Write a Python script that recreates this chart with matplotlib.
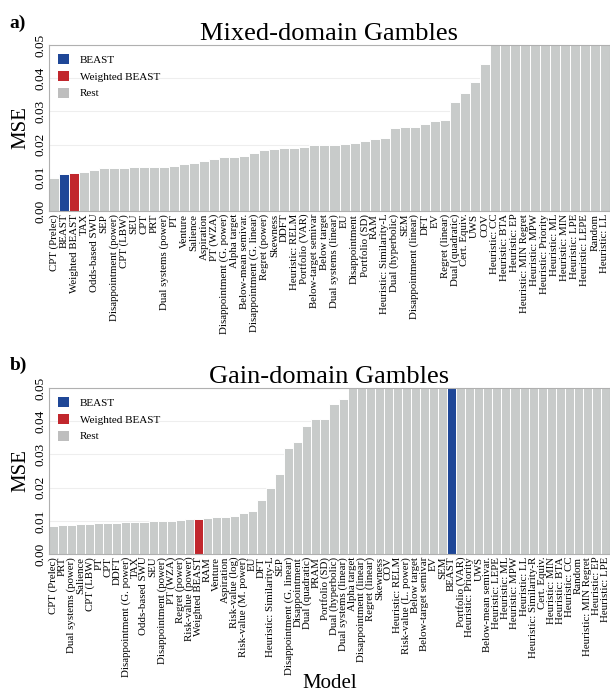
"""
Model comparison bar charts (MSE per model) for mixed-domain and gain-domain gambles.
"""

import matplotlib

matplotlib.use("Agg")

import matplotlib.pyplot as plt
from matplotlib.patches import Patch

plt.rcParams["font.family"] = ["Liberation Serif", "DejaVu Serif"]

# Mixed-domain gambles (values above 0.05 are clipped by the axis)
mixed_models = [
    "CPT (Prelec)", "BEAST", "Weighted BEAST", "TAX", "Odds-based SWU", "SEP",
    "Disappointment (power)", "CPT (LBW)", "SEU", "CPT", "PRT",
    "Dual systems (power)", "PT", "Venture", "Salience", "Aspiration",
    "PT (WZA)", "Disappointment (G. power)", "Alpha target",
    "Below-mean semivar.", "Disappointment (G. linear)", "Regret (power)",
    "Skewness", "DDFT", "Heuristic: RELM", "Portfolio (VAR)",
    "Below-target semivar", "Below target", "Dual systems (linear)", "EU",
    "Disappointment", "Portfolio (SD)", "RAM", "Heuristic: Similarity-L",
    "Dual (hyperbolic)", "SEM", "Disappointment (linear)", "DFT", "EV",
    "Regret (linear)", "Dual (quadratic)", "Cert. Equiv.", "UWS", "COV",
    "Heuristic: CC", "Heuristic: BTA", "Heuristic: EP", "Heuristic: MIN Regret",
    "Heuristic: MPW", "Heuristic: Priority", "Heuristic: ML", "Heuristic: MIN",
    "Heuristic: LPE", "Heuristic: LEPE", "Random", "Heuristic: LL",
]
mixed_mse = [
    0.0100, 0.0111, 0.0113, 0.0117, 0.0124, 0.0129,
    0.0130, 0.0130, 0.0132, 0.0133, 0.0133,
    0.0133, 0.0135, 0.0140, 0.0146, 0.0152,
    0.0156, 0.0163, 0.0163,
    0.0166, 0.0174, 0.0185,
    0.0187, 0.0191, 0.0191, 0.0194,
    0.0198, 0.0200, 0.0200, 0.0201,
    0.0205, 0.0212, 0.0217, 0.0219,
    0.0249, 0.0252, 0.0252, 0.0261, 0.0271,
    0.0275, 0.0329, 0.0356, 0.0388, 0.0442,
    0.060, 0.062, 0.064, 0.066,
    0.068, 0.070, 0.072, 0.074,
    0.076, 0.078, 0.080, 0.085,
]

# Gain-domain gambles
gain_models = [
    "CPT (Prelec)", "PRT", "Dual systems (power)", "Salience", "CPT (LBW)",
    "PT", "CPT", "DDFT", "Disappointment (G. power)", "TAX", "Odds-based SWU",
    "SEU", "Disappointment (power)", "PT (WZA)", "Regret (power)",
    "Risk-value (power)", "Weighted BEAST", "RAM", "Venture", "Aspiration",
    "Risk-value (log)", "Risk-value (M. power)", "EU", "DFT",
    "Heuristic: Similarity-L", "SEP", "Disappointment (G. linear)",
    "Disappointment", "Dual (quadratic)", "PRAM", "Portfolio (SD)",
    "Dual (hyperbolic)", "Dual systems (linear)", "Alpha target",
    "Disappointment (linear)", "Regret (linear)", "Skewness", "COV",
    "Heuristic: RELM", "Risk-value (L. power)", "Below target",
    "Below-target semivar", "EV", "SEM", "BEAST", "Portfolio (VAR)",
    "Heuristic: Priority", "UWS", "Below-mean semivar.", "Heuristic: LEPE",
    "Heuristic: ML", "Heuristic: MPW", "Heuristic: LL",
    "Heuristic: Similarity-R", "Cert. Equiv.", "Heuristic: MIN",
    "Heuristic: BTA", "Heuristic: CC", "Random", "Heuristic: MIN Regret",
    "Heuristic: EP", "Heuristic: LPE",
]
gain_mse = [
    0.0085, 0.0088, 0.0088, 0.0090, 0.0091,
    0.0093, 0.0093, 0.0093, 0.0095, 0.0095, 0.0095,
    0.0099, 0.0100, 0.0100, 0.0102,
    0.0104, 0.0106, 0.0107, 0.0110, 0.0112,
    0.0115, 0.0125, 0.0130, 0.0164,
    0.0198, 0.0241, 0.0320,
    0.0338, 0.0386, 0.0408, 0.0408,
    0.0453, 0.0467, 0.052,
    0.053, 0.054, 0.055, 0.056,
    0.057, 0.058, 0.059,
    0.060, 0.061, 0.062, 0.063, 0.064,
    0.065, 0.066, 0.067, 0.068,
    0.069, 0.070, 0.071,
    0.072, 0.073, 0.074,
    0.075, 0.076, 0.077, 0.078,
    0.079, 0.080,
]

yticks = [0.00, 0.01, 0.02, 0.03, 0.04, 0.05]

BLUE = "#1f4797"
RED = "#c1272d"
GREY = "#c8cbca"
LEGEND_GREY = "#bebebe"


def bar_colors(models):
    colors = []
    for m in models:
        if m == "BEAST":
            colors.append(BLUE)
        elif m == "Weighted BEAST":
            colors.append(RED)
        else:
            colors.append(GREY)
    return colors


def draw_panel(ax, models, mse, title):
    x = range(len(models))
    ax.bar(x, mse, width=1.0, color=bar_colors(models), edgecolor="white",
           linewidth=0.7, zorder=2)
    ax.set_xlim(-0.5, len(models) - 0.5)
    ax.set_ylim(0, 0.05)
    ax.set_yticks(yticks)
    ax.set_yticklabels([f"{t:.2f}" for t in yticks], rotation=90, va="center",
                       fontsize=9.5)
    ax.set_xticks(list(x))
    ax.set_xticklabels(models, rotation=90, fontsize=7.8)
    ax.tick_params(length=0, pad=2)
    ax.grid(axis="y", color="#eeeeee", linewidth=0.8, zorder=0)
    ax.set_axisbelow(True)
    for side in ["left", "top", "right", "bottom"]:
        ax.spines[side].set_color("#b0b0b0")
        ax.spines[side].set_linewidth(0.8)
    ax.set_ylabel("MSE", fontsize=15, labelpad=3)
    ax.set_title(title, fontsize=19, pad=2)

    handles = [
        Patch(facecolor=BLUE, label="BEAST"),
        Patch(facecolor=RED, label="Weighted BEAST"),
        Patch(facecolor=LEGEND_GREY, label="Rest"),
    ]
    ax.legend(handles=handles, loc="upper left", frameon=False, fontsize=8,
              handlelength=1.0, handleheight=1.0, handletextpad=1.0,
              labelspacing=0.55, borderaxespad=0.4)


fig = plt.figure(figsize=(6.10, 6.94), dpi=100, facecolor="white")

ax_a = fig.add_axes([0.0803, 0.696, 0.9197, 0.2392])
draw_panel(ax_a, mixed_models, mixed_mse, "Mixed-domain Gambles")

ax_b = fig.add_axes([0.0803, 0.2017, 0.9197, 0.2392])
draw_panel(ax_b, gain_models, gain_mse, "Gain-domain Gambles")

fig.text(0.5402, 0.002, "Model", ha="center", va="bottom", fontsize=15)
fig.text(0.016, 0.966, "a)", fontsize=14, fontweight="bold", va="center")
fig.text(0.016, 0.473, "b)", fontsize=14, fontweight="bold", va="center")

fig.savefig("out.png", dpi=100, facecolor="white")
plt.close(fig)
